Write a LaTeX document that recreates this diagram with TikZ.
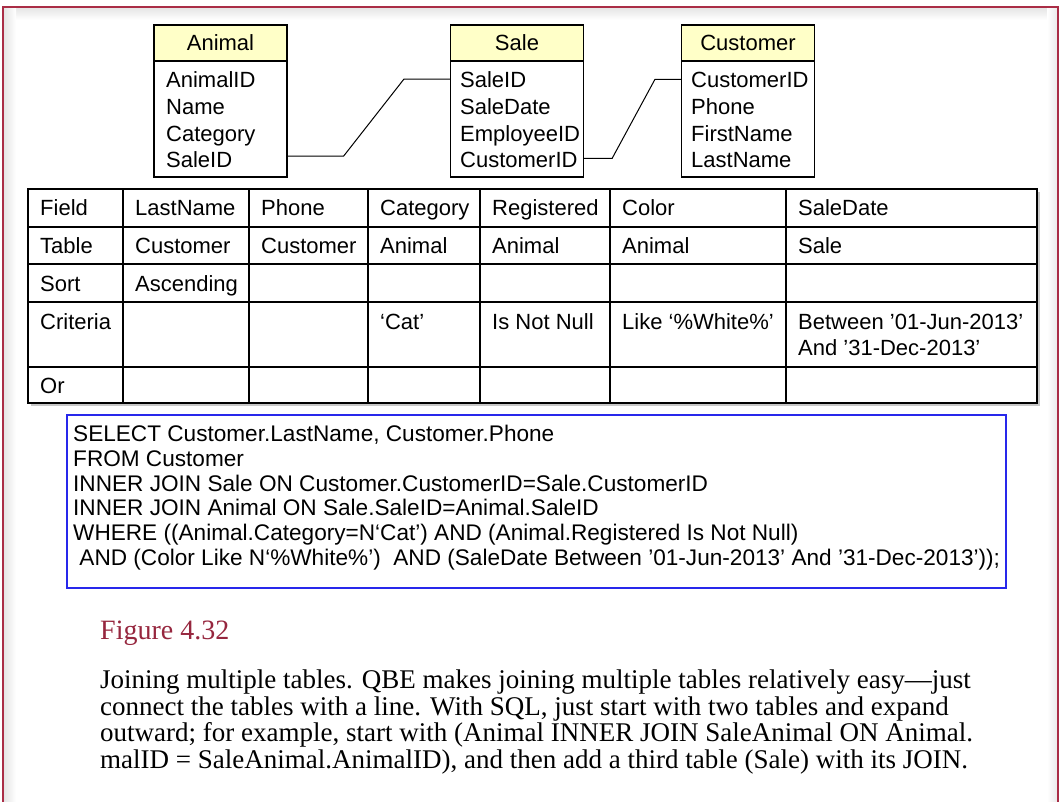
\documentclass[tikz,border=0pt]{standalone}
\usepackage{fontspec}
\setmainfont{Liberation Sans}
\newfontfamily\capfont{Liberation Serif}
\usetikzlibrary{calc}

\definecolor{framered}{RGB}{170,45,70}
\definecolor{figred}{RGB}{150,38,62}
\definecolor{hdryellow}{RGB}{255,255,200}
\definecolor{sqlblue}{RGB}{40,40,235}

\begin{document}
\begin{tikzpicture}[x=1pt,y=-1pt,
  sans/.style={font=\fontsize{22}{26.5}\selectfont},
  enthead/.style={draw=black,line width=1.2pt,fill=hdryellow,minimum width=133pt,
    minimum height=36pt,inner sep=0pt,sans},
  entbody/.style={draw=black,line width=1.2pt,minimum width=133pt,minimum height=116pt,
    inner sep=0pt},
  fld/.style={anchor=base west,inner sep=0pt,sans},
  link/.style={draw=black,line width=1pt},
  gridline/.style={draw=black,line width=1.1pt},
  gridframe/.style={draw=black,line width=1.8pt},
  cell/.style={anchor=base west,inner sep=0pt,sans},
  sqlbox/.style={draw=sqlblue,line width=1.2pt},
  sqltext/.style={anchor=north west,inner sep=0pt,align=left,
    font=\fontsize{22.6}{24.8}\selectfont},
  figlabel/.style={anchor=base west,inner sep=0pt,text=figred,
    font=\capfont\fontsize{28}{30}\selectfont},
  captext/.style={anchor=north west,inner sep=0pt,align=left,
    font=\capfont\fontsize{27}{26.5}\selectfont},
]
\useasboundingbox (0,0) rectangle (1060,802);

% page frame with a soft inner shadow
\shade[top color=black!10,bottom color=white] (4,8) rectangle (1057,20);
\shade[left color=black!10,right color=white] (4,8) rectangle (16,802);
\shade[left color=white,right color=black!8] (1047,8) rectangle (1057,802);
\draw[framered,line width=2pt] (3,802) -- (3,7) -- (1058,7) -- (1058,802);

% ---- entity boxes ----
\node[enthead] (aHead) at (220.5,43) {Animal};
\node[entbody] (aBody) at (220.5,119) {};
\node[fld] (aID)   at (166,88)  {AnimalID};
\node[fld] (aName) at (166,115) {Name};
\node[fld] (aCat)  at (166,142) {Category};
\node[fld] (aSale) at (166,168) {SaleID};

\node[enthead] (sHead) at (517,43) {Sale};
\node[entbody] (sBody) at (517,119) {};
\node[fld] (sID)   at (460,88)  {SaleID};
\node[fld] (sDate) at (460,115) {SaleDate};
\node[fld] (sEmp)  at (460,142) {EmployeeID};
\node[fld] (sCust) at (460,168) {CustomerID};

\node[enthead] (cHead) at (748,43) {Customer};
\node[entbody] (cBody) at (748,119) {};
\node[fld] (cID)    at (691,88)  {CustomerID};
\node[fld] (cPhone) at (691,115) {Phone};
\node[fld] (cFirst) at (691,142) {FirstName};
\node[fld] (cLast)  at (691,168) {LastName};

% ---- join lines ----
\coordinate (j1) at ($(aBody.east |- aSale)+(0,-4)$);
\coordinate (j2) at ($(sBody.west |- sID)+(0,-1)$);
\draw[link] (j1) -- ++(56,0) -- ($(j2)+(-46,0)$) -- (j2);
\coordinate (j3) at ($(sBody.east |- sCust)+(0,-2)$);
\coordinate (j4) at ($(cBody.west |- cID)+(0,-1)$);
\draw[link] (j3) -- ++(28,0) -- ($(j4)+(-26,0)$) -- (j4);

% ---- QBE grid ----
\fill[black!22] (31,192) rectangle (1040,406);
\fill[white] (28,189) rectangle (1037,403);
\foreach \x in {123,249,368,480,610,786}
  \draw[gridline] (\x,189) -- (\x,403);
\foreach \y in {227,264,302,367}
  \draw[gridline] (28,\y) -- (1037,\y);
\draw[gridframe] (28,189) rectangle (1037,403);

\node[cell] (f0) at (40,216)  {Field};
\node[cell] (f1) at (135,216) {LastName};
\node[cell] (f2) at (261,216) {Phone};
\node[cell] (f3) at (380,216) {Category};
\node[cell] (f4) at (492,216) {Registered};
\node[cell] (f5) at (622,216) {Color};
\node[cell] (f6) at (798,216) {SaleDate};

\node[cell] (t0) at (40,254)  {Table};
\node[cell] (t1) at (135,254) {Customer};
\node[cell] (t2) at (261,254) {Customer};
\node[cell] (t3) at (380,254) {Animal};
\node[cell] (t4) at (492,254) {Animal};
\node[cell] (t5) at (622,254) {Animal};
\node[cell] (t6) at (798,254) {Sale};

\node[cell] (s0) at (40,291)  {Sort};
\node[cell] (s1) at (135,291) {Ascending};

\node[cell] (k0) at (40,329)  {Criteria};
\node[cell] (k3) at (380,329) {‘Cat’};
\node[cell] (k4) at (492,329) {Is Not Null};
\node[cell] (k5) at (622,329) {Like ‘\%White\%’};
\node[cell] (k6) at (798,329) {Between ’01-Jun-2013’};
\node[cell] (k6b) at (798,355) {And ’31-Dec-2013’};

\node[cell] (o0) at (40,393)  {Or};

% ---- SQL statement ----
\draw[sqlbox] (67,415) rectangle (1006,588);
\node[sqltext] (sql) at (73,425) {SELECT Customer.LastName, Customer.Phone\\
FROM Customer\\
INNER JOIN Sale ON Customer.CustomerID=Sale.CustomerID\\
INNER JOIN Animal ON Sale.SaleID=Animal.SaleID\\
WHERE ((Animal.Category=N‘Cat’) AND (Animal.Registered Is Not Null)\\
\ AND (Color Like N‘\%White\%’) \ AND (SaleDate Between ’01-Jun-2013’ And ’31-Dec-2013’));};

% ---- caption ----
\node[figlabel] (fig) at (100,639) {Figure 4.32};
\node[captext] (cap) at (100,670) {Joining multiple tables. QBE makes joining multiple tables relatively easy—just\\
connect the tables with a line. With SQL, just start with two tables and expand\\
outward; for example, start with (Animal INNER JOIN SaleAnimal ON Animal.\\
malID = SaleAnimal.AnimalID), and then add a third table (Sale) with its JOIN.};
\end{tikzpicture}
\end{document}
